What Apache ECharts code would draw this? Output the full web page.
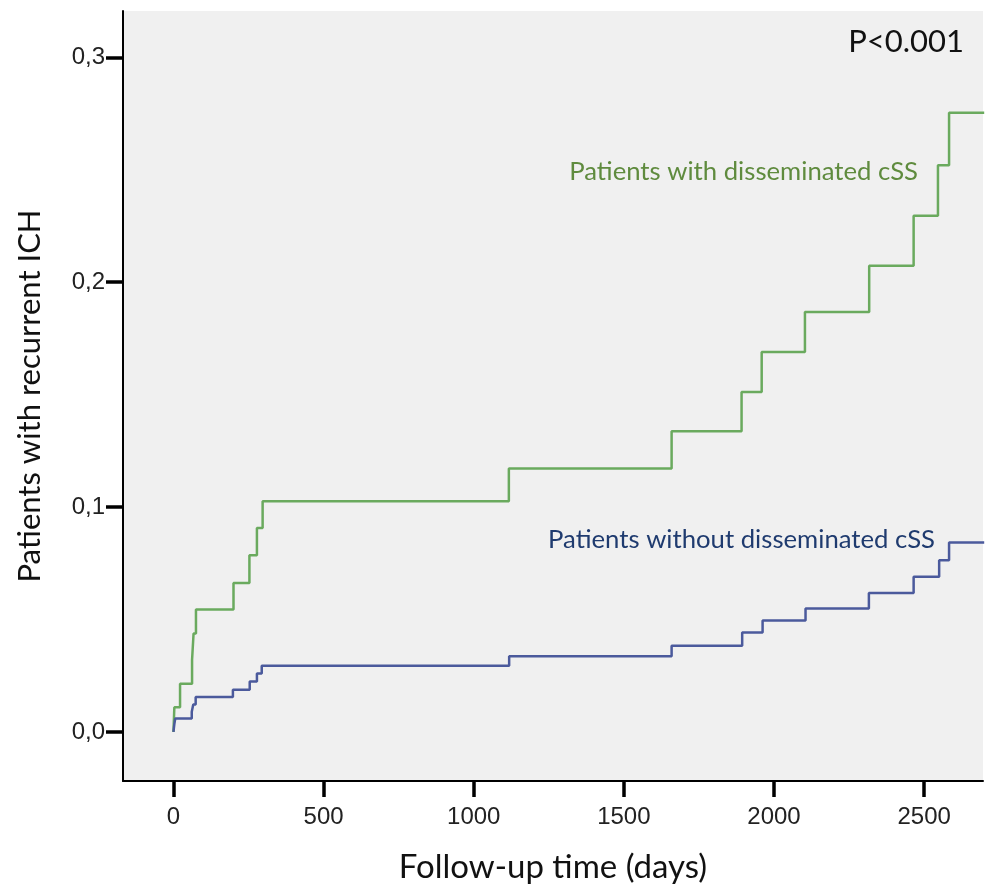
<!DOCTYPE html>
<html>
<head>
<meta charset="utf-8">
<script src="https://cdn.jsdelivr.net/npm/echarts@6/dist/echarts.min.js"></script>
<style>
html,body{margin:0;padding:0;background:#fff;}
#c{width:986px;height:888px;}
</style>
</head>
<body>
<div id="c"></div>
<script>
// Kaplan-Meier cumulative incidence steps: [day, proportion]
var withDisseminated = [
  [0,0],[3,0.011],[22,0.0215],[62,0.032],[67,0.0438],[75,0.0545],
  [200,0.0663],[253,0.0786],[278,0.0907],[297,0.1026],[1117,0.1172],
  [1659,0.1337],[1892,0.1512],[1959,0.169],[2103,0.1868],[2317,0.2073],
  [2465,0.2296],[2546,0.252],[2583,0.2754],[2700,0.2754]
];
var withoutDisseminated = [
  [0,0],[3,0.0035],[6,0.006],[61,0.009],[66,0.0122],[74,0.0155],
  [198,0.0188],[254,0.0224],[278,0.026],[294,0.0294],[1118,0.0337],
  [1659,0.0383],[1894,0.0442],[1962,0.0496],[2105,0.0549],[2316,0.0618],
  [2465,0.069],[2550,0.0764],[2583,0.0843],[2700,0.0843]
];
var xTicks = [0,500,1000,1500,2000,2500];
var yTicks = [0,0.1,0.2,0.3];
var seriesNames = ['Patients with disseminated cSS','Patients without disseminated cSS'];
var pText = 'P<0.001';

var chart = echarts.init(document.getElementById('c'));
var titleFont = 'Lato';
chart.setOption({
  backgroundColor:'#ffffff',
  animation:false,
  grid:{left:123,right:3,top:11,bottom:107,show:true,backgroundColor:'#f0f0f0',borderWidth:0,
    containLabel:false,outerBoundsMode:'none'},
  xAxis:{
    type:'value',min:-168,max:2696,
    name:'Follow-up time (days)',nameLocation:'middle',nameGap:70,
    nameTextStyle:{fontFamily:titleFont,fontSize:33,color:'#111'},
    axisLine:{show:true,onZero:false,lineStyle:{color:'#000',width:2}},
    axisTick:{show:true,inside:false,length:16,lineStyle:{color:'#000',width:3.5},customValues:xTicks},
    axisLabel:{customValues:xTicks,fontFamily:'Liberation Sans',fontSize:24,color:'#222',margin:24,
      formatter:function(v){return String(v);}},
    splitLine:{show:false}
  },
  yAxis:{
    type:'value',min:-0.0218,max:0.3206,
    name:'Patients with recurrent ICH',nameLocation:'middle',nameGap:78,
    nameTextStyle:{fontFamily:titleFont,fontSize:31,color:'#111'},
    axisLine:{show:true,onZero:false,lineStyle:{color:'#000',width:2}},
    axisTick:{show:true,inside:false,length:17,lineStyle:{color:'#000',width:3.5},customValues:yTicks},
    axisLabel:{customValues:yTicks,fontFamily:'Liberation Sans',fontSize:24,color:'#222',margin:18,
      formatter:function(v){return v.toFixed(1).replace('.',',');}},
    splitLine:{show:false}
  },
  series:[
    {name:seriesNames[0],type:'line',step:'end',data:withDisseminated,showSymbol:false,symbol:'none',
      lineStyle:{color:'#6aaa5e',width:2.5},clip:true},
    {name:seriesNames[1],type:'line',step:'end',data:withoutDisseminated,showSymbol:false,symbol:'none',
      lineStyle:{color:'#4b5a9c',width:2.5},clip:true}
  ],
  graphic:[
    {type:'text',x:964,y:42,style:{text:pText,fontFamily:titleFont,fontSize:31,fill:'#111',textAlign:'right',textVerticalAlign:'middle'}},
    {type:'text',x:918,y:172,style:{text:seriesNames[0],fontFamily:titleFont,fontSize:25.7,fill:'#5f8b3e',textAlign:'right',textVerticalAlign:'middle'}},
    {type:'text',x:935,y:540,style:{text:seriesNames[1],fontFamily:titleFont,fontSize:25.7,fill:'#1f3b6f',textAlign:'right',textVerticalAlign:'middle'}}
  ]
});
</script>
</body>
</html>
